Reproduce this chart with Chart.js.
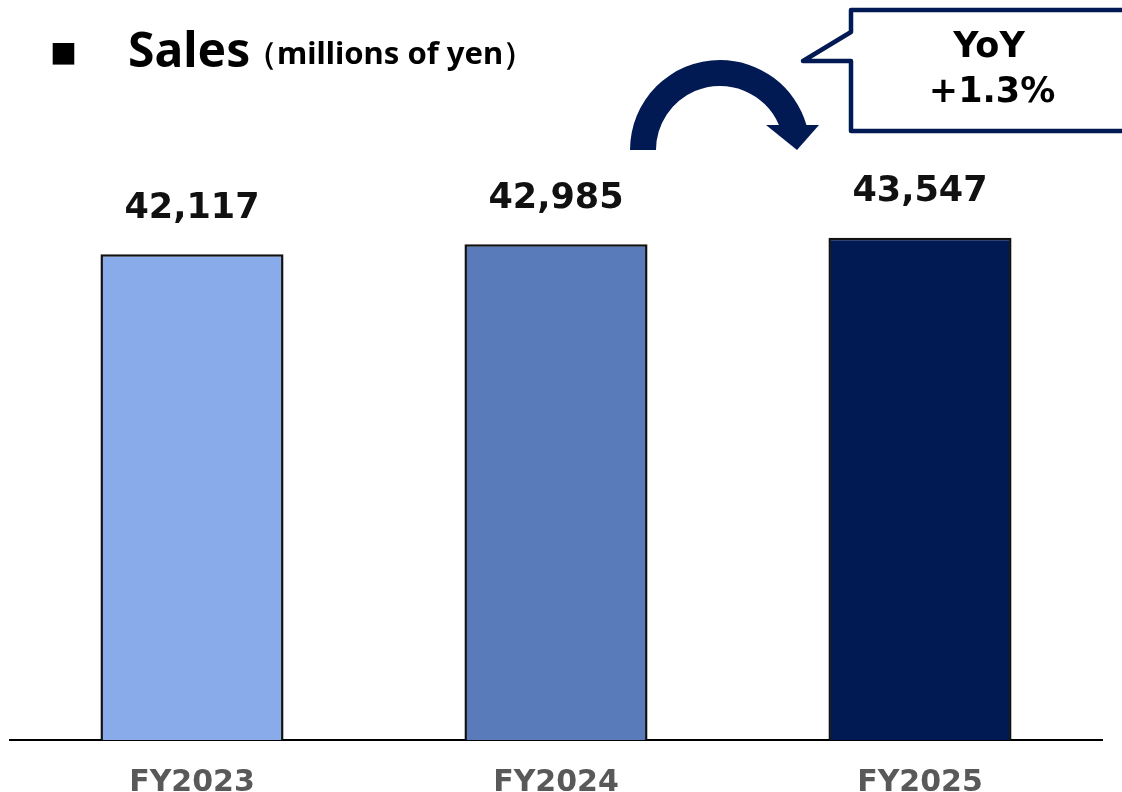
<!DOCTYPE html>
<html>
<head>
<meta charset="utf-8">
<script src="https://cdn.jsdelivr.net/npm/chart.js@4"></script>
<style>
  html, body { margin: 0; padding: 0; background: #fff; }
  #salesChart { display: block; }
</style>
</head>
<body>
<canvas id="salesChart" width="1122" height="792"></canvas>
<script>
const years = ['FY2023', 'FY2024', 'FY2025'];
const sales = [42117, 42985, 43547];
const barColors = ['#8aabe9', '#5a7bba', '#021a54'];

const NAVY = '#021a54';

// value labels above each bar
const valueLabels = {
    id: 'valueLabels',
    afterDatasetsDraw(chart) {
        const ctx = chart.ctx;
        const meta = chart.getDatasetMeta(0);
        ctx.save();
        ctx.font = 'bold 35px "DejaVu Sans"';
        ctx.fillStyle = '#111';
        ctx.textAlign = 'center';
        ctx.textBaseline = 'alphabetic';
        meta.data.forEach((bar, i) => {
            ctx.fillText(sales[i].toLocaleString('en-US'), bar.x, bar.y - 36.5);
        });
        ctx.restore();
    }
};

// heading, curved arrow and YoY callout
const decorations = {
    id: 'decorations',
    afterDraw(chart) {
        const ctx = chart.ctx;
        ctx.save();

        // heading
        ctx.fillStyle = '#000';
        ctx.textBaseline = 'alphabetic';
        ctx.textAlign = 'left';
        ctx.font = '27px "Noto Sans CJK JP"';
        ctx.fillText('■', 50, 64);
        ctx.font = 'bold 48px "Noto Sans"';
        ctx.fillText('Sales', 128, 67);
        ctx.font = 'bold 31px "Noto Sans"';
        ctx.fillText('（millions of yen）', 246, 64);

        // curved arrow
        const cx = 720, cy = 150, rOut = 90, rIn = 64, yEnd = 125;
        const aOut = -Math.asin((cy - yEnd) / rOut);
        const aIn = -Math.asin((cy - yEnd) / rIn);
        ctx.fillStyle = NAVY;
        ctx.beginPath();
        ctx.arc(cx, cy, rOut, Math.PI, 2 * Math.PI + aOut, false);
        ctx.lineTo(cx + rIn * Math.cos(aIn), yEnd);
        ctx.arc(cx, cy, rIn, 2 * Math.PI + aIn, Math.PI, true);
        ctx.closePath();
        ctx.fill();
        ctx.beginPath();
        ctx.moveTo(766, yEnd);
        ctx.lineTo(819, yEnd);
        ctx.lineTo(797, 150);
        ctx.closePath();
        ctx.fill();

        // callout box
        ctx.strokeStyle = NAVY;
        ctx.lineWidth = 4.5;
        ctx.lineJoin = 'round';
        ctx.fillStyle = '#fff';
        ctx.beginPath();
        ctx.moveTo(851, 32);
        ctx.lineTo(851, 10);
        ctx.lineTo(1140, 10);
        ctx.lineTo(1140, 131);
        ctx.lineTo(851, 131);
        ctx.lineTo(851, 61);
        ctx.lineTo(803, 61);
        ctx.closePath();
        ctx.fill();
        ctx.stroke();

        const yoy = (sales[2] / sales[1] - 1) * 100;
        ctx.fillStyle = '#000';
        ctx.textAlign = 'center';
        ctx.font = 'bold 35px "DejaVu Sans"';
        ctx.fillText('YoY', 989, 57);
        ctx.fillText((yoy >= 0 ? '+' : '') + yoy.toFixed(1) + '%', 992, 102);

        ctx.restore();
    }
};

new Chart(document.getElementById('salesChart'), {
    type: 'bar',
    data: {
        labels: years,
        datasets: [{
            data: sales,
            backgroundColor: barColors,
            borderColor: '#111',
            borderWidth: 2.5,
            categoryPercentage: 1.0,
            barPercentage: 0.503
        }]
    },
    options: {
        responsive: false,
        devicePixelRatio: 1,
        animation: false,
        layout: {
            padding: { top: 160, left: 10, right: 20, bottom: -34 }
        },
        plugins: {
            legend: { display: false },
            tooltip: { enabled: false },
            title: { display: false }
        },
        scales: {
            x: {
                z: 1,
                grid: { display: false, drawTicks: false },
                border: { display: true, color: '#000', width: 2 },
                ticks: {
                    color: '#595959',
                    padding: 28,
                    font: { family: '"DejaVu Sans"', weight: 'bold', size: 30, lineHeight: 1 }
                }
            },
            y: {
                display: false,
                min: 0,
                max: 50300
            }
        }
    },
    plugins: [valueLabels, decorations]
});
</script>
</body>
</html>
